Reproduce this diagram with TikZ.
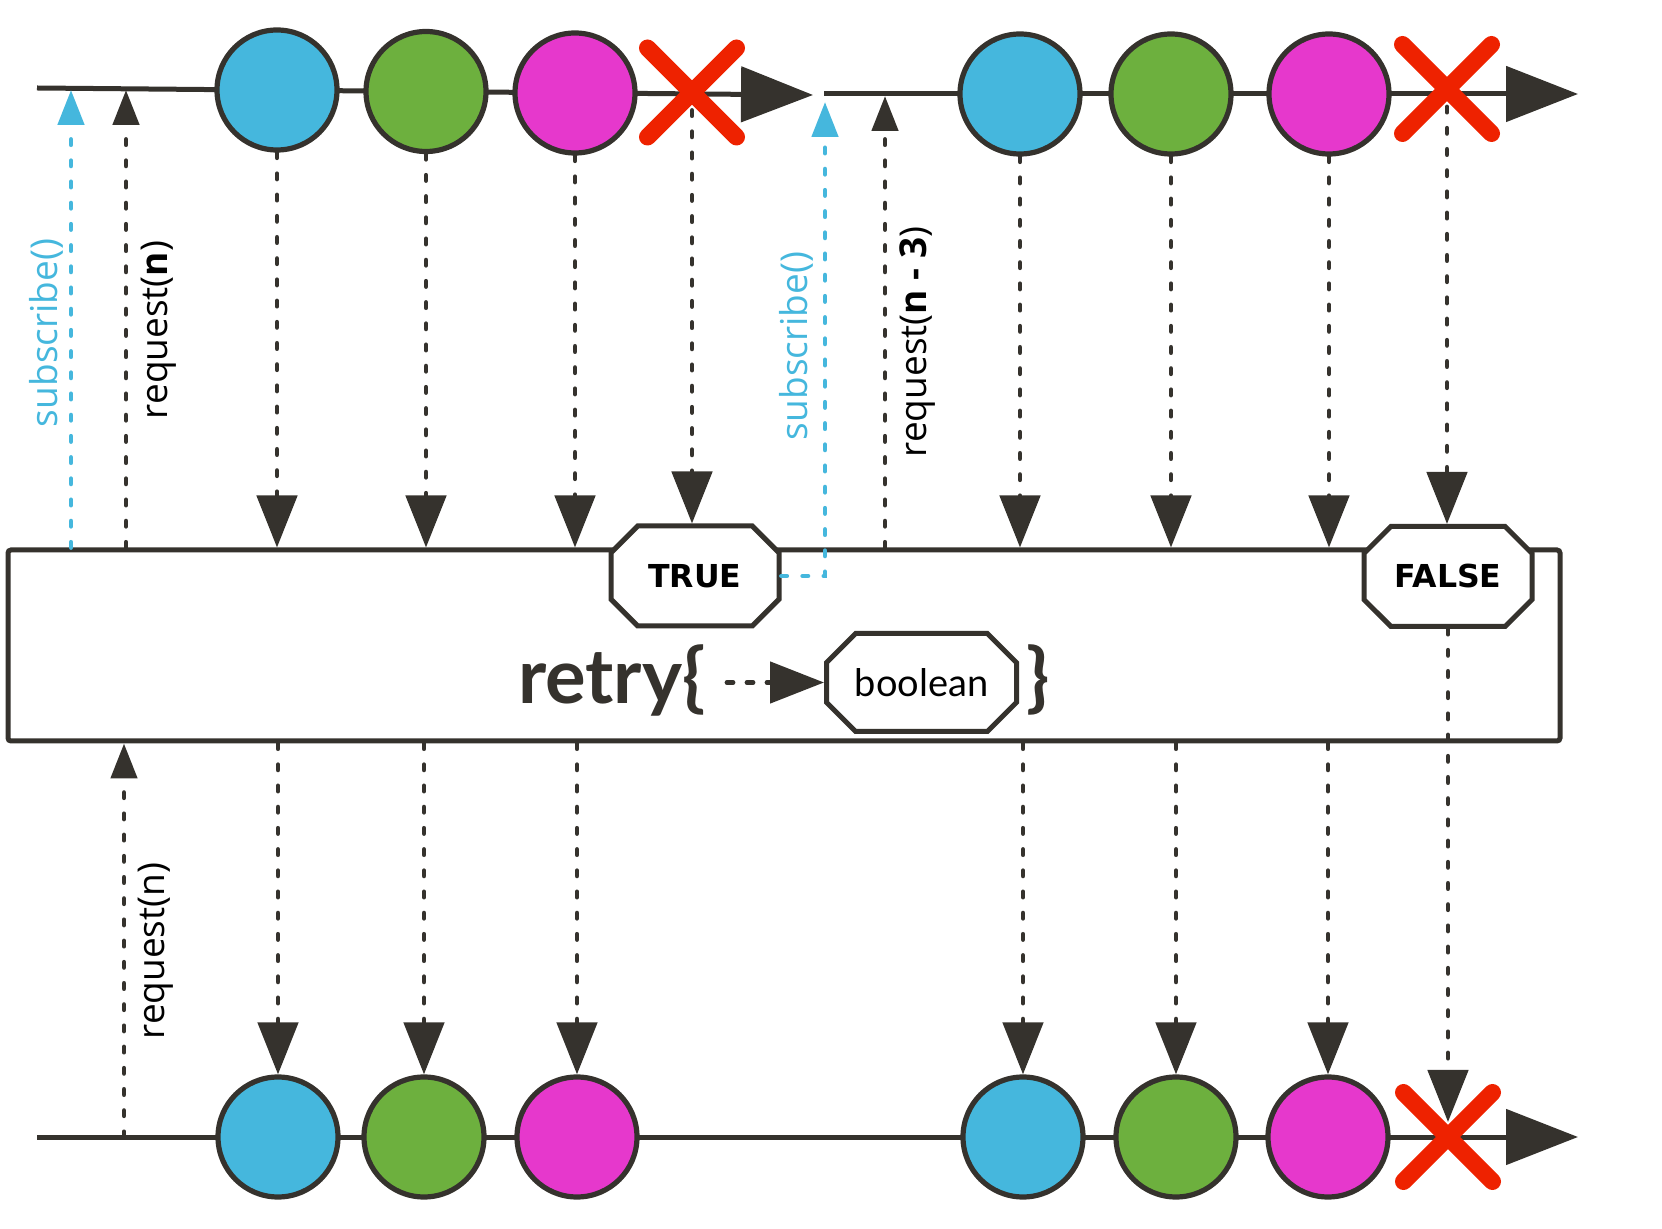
\documentclass[tikz,border=0pt]{standalone}
\usepackage{fontspec}
\setmainfont{Lato}
\newfontfamily\callfont{Open Sans}
\newfontfamily\tagfont{DejaVu Sans}
\usepackage{tikz}
\usetikzlibrary{arrows.meta,shapes.misc}
\definecolor{ink}{HTML}{35322D}
\definecolor{rxblue}{HTML}{45B7DD}
\definecolor{rxgreen}{HTML}{6DB03E}
\definecolor{rxpink}{HTML}{E638CC}
\definecolor{rxred}{HTML}{EE2200}
\tikzset{
  marble/.style={circle, draw=ink, line width=2.6pt, minimum size=60pt, inner sep=0pt},
  marbleerr/.style={cross out, draw=rxred, line width=8.5pt, line cap=round, minimum size=36pt, inner sep=0pt},
  marbleline/.style={draw=ink, line width=2.5pt, -{Triangle[length=36pt,width=27.5pt]}},
  marbleflow/.style={draw=ink, line width=2.4pt, line cap=round, dash pattern=on 2.6pt off 8pt, -{Triangle[length=26pt,width=20pt]}},
  marblecall/.style={draw=ink, line width=2.4pt, line cap=round, dash pattern=on 2.6pt off 8pt, -{Triangle[length=17.5pt,width=13pt]}},
  marblesub/.style={marblecall, draw=rxblue},
  opbox/.style={draw=ink, line width=2.5pt, rounded corners=1.5pt, fill=white, minimum width=776pt, minimum height=95.5pt, inner sep=0pt},
  optag/.style={chamfered rectangle, chamfered rectangle xsep=7.5pt, chamfered rectangle ysep=7.5pt, draw=ink, line width=2.5pt, fill=white, inner sep=0pt, font=\tagfont\bfseries\fontsize{15.8pt}{18pt}\selectfont},
  oplabel/.style={rotate=90, inner sep=0pt, font=\callfont\fontsize{18.5pt}{21pt}\selectfont},
  opname/.style={inner sep=0pt, text=ink, font=\bfseries\fontsize{38pt}{44pt}\selectfont}
}
\begin{document}
\begin{tikzpicture}[x=0.5pt,y=-0.5pt]
\useasboundingbox (0,0) rectangle (1662,1229);
% timelines
\coordinate (srcstart) at (37,88);
\coordinate (srcend) at (813,95);
\coordinate (retrystart) at (824,94);
\coordinate (retryend) at (1578,94);
\coordinate (outstart) at (37,1137);
\coordinate (outend) at (1578,1137);
\draw[marbleline] (srcstart) -- (srcend);
\draw[marbleline] (retrystart) -- (retryend);
\draw[marbleline] (outstart) -- (outend);
% marbles
\foreach \n/\x/\y/\c in {a1/277/90/rxblue, a2/426/91.5/rxgreen, a3/575/93/rxpink,
    c1/1020/94/rxblue, c2/1171/94/rxgreen, c3/1329/94/rxpink,
    b1/278/1137/rxblue, b2/424/1137/rxgreen, b3/577/1137/rxpink,
    b4/1023/1137/rxblue, b5/1176/1137/rxgreen, b6/1328/1137/rxpink} {
  \node[marble, fill=\c] (\n) at (\x,\y) {};
}
\node[marbleerr] (aerr) at (692,92.5) {};
\node[marbleerr] (cerr) at (1447,89) {};
\node[marbleerr] (berr) at (1448,1137) {};
% operator
\node[opbox] (op) at (784,645.5) {};
\node[optag, minimum width=84pt, minimum height=50pt] (ontrue) at (695,576) {TRUE};
\node[optag, minimum width=84pt, minimum height=50pt] (onfalse) at (1448,576.5) {FALSE};
\node[optag, font=\fontsize{19pt}{22pt}\selectfont, minimum width=95pt, minimum height=49pt] (predtype) at (921.5,682.5) {boolean};
\node[opname, anchor=base east] (retryname) at (706,704) {retry\{};
\node[opname, anchor=base west] (closebrace) at (1026,704) {\}};
\draw[draw=ink, line width=2.4pt, line cap=round, dash pattern=on 3pt off 7pt, -{Triangle[length=27pt,width=20.5pt]}] ([xshift=-48.5pt]predtype.west) -- (predtype.west);
% subscribe / request
\coordinate (sub1tip) at (71,90);
\coordinate (req1tip) at (126,90);
\coordinate (sub2tip) at (825,102);
\coordinate (req2tip) at (885,96);
\coordinate (req3foot) at (124,1137);
\draw[marblesub] (op.north -| sub1tip) -- (sub1tip);
\draw[marblecall] (op.north -| req1tip) -- (req1tip);
\draw[marblesub] (ontrue.east) -| (sub2tip);
\draw[marblecall] (op.north -| req2tip) -- (req2tip);
\draw[marblecall] (req3foot) -- (req3foot |- op.south);
\node[oplabel, text=rxblue] (sub1lbl) at (46,333) {subscribe()};
\node[oplabel] (req1lbl) at (159,330) {request(\textbf{n})};
\node[oplabel, text=rxblue] (sub2lbl) at (796,346) {subscribe()};
\node[oplabel] (req2lbl) at (918,342) {request(\textbf{n - 3})};
\node[oplabel] (req3lbl) at (156,951) {request(n)};
% emissions
\foreach \m in {a1,a2,a3,c1,c2,c3} {
  \draw[marbleflow] (\m.south) -- (\m.south |- op.north);
}
\draw[marbleflow, shorten <=9pt] (aerr.center) -- (aerr.center |- ontrue.north);
\draw[marbleflow, shorten <=9pt] (cerr.center) -- (cerr.center |- onfalse.north);
\foreach \m in {b1,b2,b3,b4,b5,b6} {
  \draw[marbleflow] (\m |- op.south) -- (\m.north);
}
\draw[marbleflow, shorten >=7.5pt] (onfalse.south) -- (onfalse.south |- berr.center);
\end{tikzpicture}
\end{document}
